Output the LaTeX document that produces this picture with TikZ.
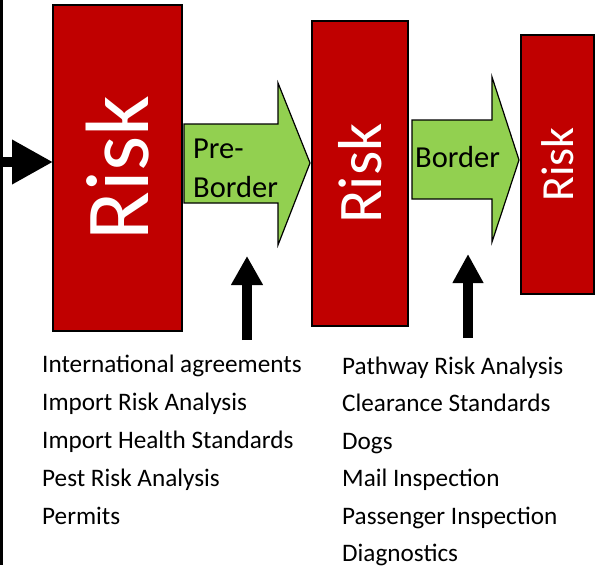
\documentclass[tikz,border=0pt]{standalone}
\usepackage{fontspec}
\setmainfont{Carlito}
\usetikzlibrary{arrows.meta}
\definecolor{riskred}{HTML}{C00000}
\definecolor{stagegreen}{HTML}{92D050}
\tikzset{
  riskbox/.style={draw=black, line width=1.2pt, fill=riskred, text=white, rotate=90, inner sep=0pt},
  stagearrow/.style={draw=black, line width=1.2pt, fill=stagegreen, line join=miter},
  stagelabel/.style={inner sep=0pt, anchor=base west, font=\fontsize{30.5}{30.5}\selectfont},
  blackarrow/.style={line width=10pt, -{Triangle[width=#1, length=29pt]}},
  listitem/.style={inner sep=0pt, anchor=base west, font=\fontsize{25.2}{25.2}\selectfont}
}
\begin{document}
\begin{tikzpicture}[x=1pt,y=-1pt]
\useasboundingbox (0,0) rectangle (596,565);
% left vertical line
\coordinate (lt) at (1.5,0);
\coordinate (lb) at (1.5,565);
\draw[line width=3pt] (lt) -- (lb);
% risk boxes
\node[riskbox, minimum width=326pt, minimum height=129pt, font=\fontsize{90}{90}\selectfont] (b1) at (117.5,168) {Risk};
\node[riskbox, minimum width=305pt, minimum height=96pt, font=\fontsize{62}{62}\selectfont] (b2) at (360,173.5) {Risk};
\node[riskbox, minimum width=259pt, minimum height=73pt, font=\fontsize{46}{46}\selectfont] (b3) at (557.5,164.5) {Risk};
% left arrow into first box
\coordinate (la) at (0,162);
\coordinate (lat) at (53,162);
\draw[line width=10pt, -{Triangle[width=42pt, length=41pt]}] (la) -- (lat);
% green stage arrows
\draw[stagearrow] (184,124) -- (278,124) -- (278,83) -- (310,163) -- (278,245) -- (278,203) -- (184,203) -- cycle;
\node[stagelabel] (pre1) at (193,158) {Pre-};
\node[stagelabel] (pre2) at (193,197) {Border};
\draw[stagearrow] (412,120) -- (492,120) -- (492,77) -- (519,160) -- (492,242) -- (492,199) -- (412,199) -- cycle;
\node[stagelabel] (bord) at (415,167) {Border};
% up arrows
\coordinate (u1s) at (247,340);
\coordinate (u1t) at (247,256);
\draw[blackarrow=30pt] (u1s) -- (u1t);
\coordinate (u2s) at (468,338);
\coordinate (u2t) at (468,254);
\draw[blackarrow=29pt] (u2s) -- (u2t);
% lists
\node[listitem] (l1) at (42,372) {International agreements};
\node[listitem] (l2) at (42,410) {Import Risk Analysis};
\node[listitem] (l3) at (42,448) {Import Health Standards};
\node[listitem] (l4) at (42,486.5) {Pest Risk Analysis};
\node[listitem] (l5) at (42,524) {Permits};
\node[listitem] (r1) at (342,374) {Pathway Risk Analysis};
\node[listitem] (r2) at (342,411.5) {Clearance Standards};
\node[listitem] (r3) at (342,449) {Dogs};
\node[listitem] (r4) at (342,486.5) {Mail Inspection};
\node[listitem] (r5) at (342,524) {Passenger Inspection};
\node[listitem] (r6) at (342,561.5) {Diagnostics};
\end{tikzpicture}
\end{document}
